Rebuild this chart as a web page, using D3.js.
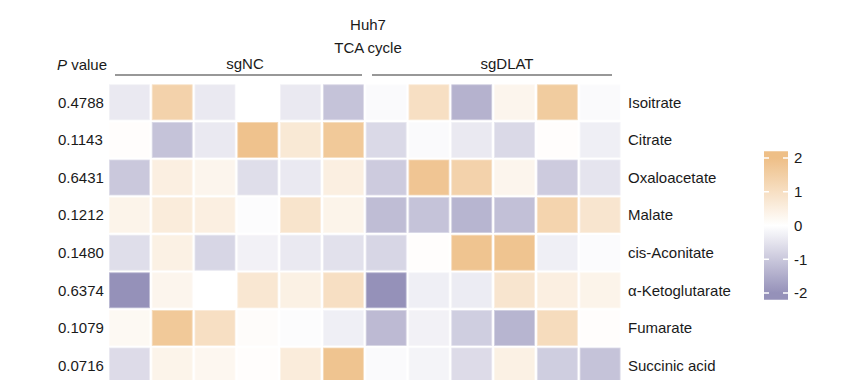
<!DOCTYPE html>
<html><head><meta charset="utf-8">
<script src="https://cdn.jsdelivr.net/npm/d3@7"></script>
<style>body{margin:0;background:#fff}svg{font-family:"Liberation Sans",Arial,sans-serif}</style>
</head><body>
<svg id="chart" width="842" height="380"></svg>
<script>
const metabolites = ["Isoitrate","Citrate","Oxaloacetate","Malate","cis-Aconitate","α-Ketoglutarate","Fumarate","Succinic acid"];
const pValues = ["0.4788","0.1143","0.6431","0.1212","0.1480","0.6374","0.1079","0.0716"];
const samples = ["NC1","NC2","NC3","NC4","NC5","NC6","DL1","DL2","DL3","DL4","DL5","DL6"];
const groups = ["sgNC","sgDLAT"];
const legendTicks = [2,1,0,-1,-2];
const zRows = [
  [-0.4, 1.4, -0.4, 0.0, -0.4, -1.1,   -0.1, 1.0, -1.4, 0.3, 1.6, -0.1],
  [0.05, -1.1, -0.4, 1.9, 0.7, 1.7,    -0.7, -0.1, -0.4, -0.7, 0.05, -0.3],
  [-1.0, 0.5, 0.3, -0.6, -0.4, 0.5,    -0.95, 1.8, 1.4, 0.3, -0.95, -0.5],
  [0.35, 0.6, 0.5, -0.05, 0.85, 0.35,  -1.2, -1.1, -1.35, -1.15, 1.35, 0.8],
  [-0.6, 0.45, -0.75, -0.25, -0.4, -0.55, -0.75, 0.05, 1.85, 1.85, -0.3, -0.07],
  [-2.0, 0.3, 0.0, 0.75, 0.45, 1.0,    -2.0, -0.3, -0.35, 0.8, 0.5, 0.35],
  [0.2, 1.7, 1.0, 0.08, -0.05, -0.3,   -1.25, -0.25, -0.9, -1.35, 1.1, 0.05],
  [-0.65, 0.35, 0.25, 0.05, 0.6, 1.85, -0.1, -0.2, -0.65, 0.45, -0.9, -1.1]
];

const svg = d3.select("#chart");
const color = d3.scaleLinear().domain([-2,0,2]).range(["#9591b9","#ffffff","#eebf87"]).clamp(true);
const x = d3.scaleBand().domain(samples).range([108,621.5]);
const y = d3.scaleBand().domain(metabolites).range([83.5,384.3]);

const cells = [];
zRows.forEach((r,i)=>r.forEach((v,j)=>cells.push({m:metabolites[i], s:samples[j], v})));
svg.append("g").selectAll("rect").data(cells).join("rect")
  .attr("x", d=>x(d.s)+1.4).attr("y", d=>y(d.m)+1.3)
  .attr("width", x.bandwidth()-2.8).attr("height", y.bandwidth()-2.6)
  .attr("fill", d=>color(d.v))
  .attr("stroke", d=>d3.interpolateRgb(color(d.v),"#ffffff")(0.35)).attr("stroke-width",0.8);

// row labels
svg.append("g").selectAll("text").data(metabolites).join("text")
  .attr("x",628).attr("y",d=>y(d)+y.bandwidth()/2).attr("dy","0.35em")
  .attr("font-size",15).attr("fill","#1a1a1a").text(d=>d);
// p values
svg.append("g").selectAll("text").data(pValues).join("text")
  .attr("x",58).attr("y",(d,i)=>y(metabolites[i])+y.bandwidth()/2).attr("dy","0.35em")
  .attr("font-size",15).attr("fill","#1a1a1a").text(d=>d);

// header
const pv = svg.append("text").attr("x",57).attr("y",70).attr("font-size",15).attr("fill","#1a1a1a");
pv.append("tspan").attr("font-style","italic").text("P");
pv.append("tspan").text(" value");
svg.append("text").attr("x",368).attr("y",30).attr("text-anchor","middle").attr("font-size",15).attr("fill","#1a1a1a").text("Huh7");
svg.append("text").attr("x",368).attr("y",53).attr("text-anchor","middle").attr("font-size",15).attr("fill","#1a1a1a").text("TCA cycle");
const groupLines = [[115,362],[372,612]];
groups.forEach((g,i)=>{
  const [a,b] = groupLines[i];
  svg.append("line").attr("x1",a).attr("x2",b).attr("y1",75).attr("y2",75).attr("stroke","#333").attr("stroke-width",1.2);
  svg.append("text").attr("x",i===0?245:507).attr("y",69).attr("text-anchor","middle").attr("font-size",15).attr("fill","#1a1a1a").text(g);
});

// legend
const ly = d3.scaleLinear().domain([-2,2]).range([293,158]);
const defs = svg.append("defs");
const grad = defs.append("linearGradient").attr("id","lg").attr("x1",0).attr("x2",0).attr("y1",1).attr("y2",0);
d3.range(-2.2,2.21,0.2).forEach(v=>grad.append("stop").attr("offset",(v+2.2)/4.4).attr("stop-color",color(v)));
svg.append("rect").attr("x",764).attr("y",ly(2.2)).attr("width",24).attr("height",ly(-2.2)-ly(2.2)).attr("fill","url(#lg)");
const lg = svg.append("g");
legendTicks.forEach(t=>{
  lg.append("line").attr("x1",764).attr("x2",769).attr("y1",ly(t)).attr("y2",ly(t)).attr("stroke","#fff").attr("stroke-width",1.5);
  lg.append("line").attr("x1",783).attr("x2",788).attr("y1",ly(t)).attr("y2",ly(t)).attr("stroke","#fff").attr("stroke-width",1.5);
  lg.append("text").attr("x",794).attr("y",ly(t)).attr("dy","0.35em").attr("font-size",15).attr("fill","#1a1a1a").text(t);
});
</script>
</body></html>
